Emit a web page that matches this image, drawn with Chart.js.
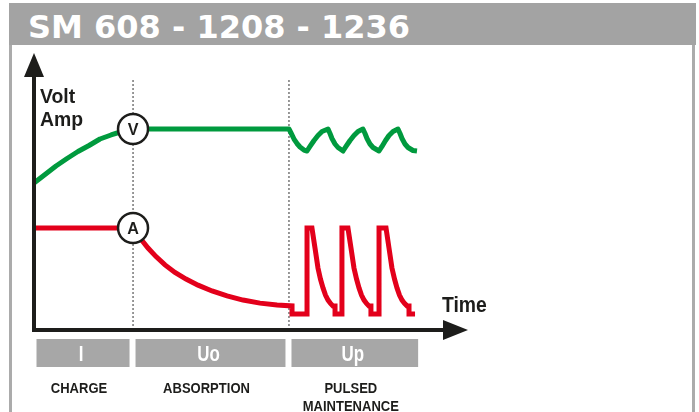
<!DOCTYPE html>
<html>
<head>
<meta charset="utf-8">
<script src="https://cdn.jsdelivr.net/npm/chart.js@4.4.1/dist/chart.umd.min.js"></script>
<style>
html,body{margin:0;padding:0;background:#fff;}
#wrap{position:relative;width:699px;height:412px;overflow:hidden;background:#fff;}
#title{position:absolute;left:9px;top:3px;width:687px;height:42px;background:#a3a3a3;color:#fff;
  font-family:"DejaVu Sans";font-weight:bold;font-size:32px;line-height:42px;padding:3px 0 0 19px;box-sizing:border-box;white-space:nowrap;}
#lline{position:absolute;left:9px;top:45px;width:3px;height:367px;background:#ababab;}
#rline{position:absolute;left:692px;top:45px;width:3px;height:367px;background:#ababab;}
#c{position:absolute;left:0;top:0;}
</style>
</head>
<body>
<div id="wrap">
  <div id="title">SM 608 - 1208 - 1236</div>
  <div id="lline"></div>
  <div id="rline"></div>
  <canvas id="c" width="699" height="412"></canvas>
</div>
<script>
// ---------- data (time units on x, relative level 0-100 on y) ----------
const voltX = [0, 1.12, 2.23, 3.35, 4.46, 5.58, 6.69, 7.81, 8.92, 10.04,
  25.85, 26.06, 26.36, 26.66, 26.97, 27.37, 27.68,
  27.98, 28.39, 28.79, 29.20, 29.81,
  30.01, 30.21, 30.52, 30.82, 31.33,
  31.63, 32.04, 32.44, 32.85, 33.35,
  33.56, 33.76, 34.06, 34.37, 34.98,
  35.28, 35.64, 35.99, 36.40, 36.90,
  37.11, 37.31, 37.61, 37.92, 38.42, 38.83];
const voltY = [53.07, 56.14, 59.21, 61.91, 64.44, 66.61, 68.95, 70.40, 71.66, 72.56,
  72.56, 71.12, 68.95, 67.33, 66.06, 64.98, 64.62,
  66.25, 68.41, 70.22, 71.66, 72.56,
  70.94, 69.13, 67.15, 65.88, 64.62,
  66.25, 68.41, 70.22, 71.66, 72.56,
  70.94, 69.13, 67.15, 65.88, 64.62,
  66.25, 68.41, 70.22, 71.66, 72.56,
  70.94, 69.13, 67.15, 65.88, 64.80, 64.62];

const ampX = [0, 10.0, 10.75, 11.56, 12.37, 13.28, 14.29, 15.41, 16.63, 18.05, 19.57, 21.19, 22.91, 24.64, 26.16,
  26.16, 27.68,
  27.68, 28.18, 28.49, 28.79, 29.04, 29.30, 29.55, 29.81, 30.06, 30.31, 30.52, 30.52, 31.22,
  31.22, 31.83, 32.14, 32.44, 32.70, 32.95, 33.20, 33.46, 33.71, 33.96, 34.16, 34.16, 34.98,
  34.98, 35.69, 35.99, 36.29, 36.55, 36.80, 37.05, 37.31, 37.56, 37.82, 38.02, 38.02, 38.63];
const ampY = [36.8, 36.8, 33.2, 29.6, 26.5, 23.5, 20.8, 18.4, 16.2, 14.1, 12.3, 10.8, 9.7, 9.0, 8.7,
  5.8, 5.8,
  36.8, 36.8, 29.6, 22.4, 18.4, 15.2, 12.6, 10.8, 9.6, 8.7, 8.7, 5.8, 5.8,
  36.8, 36.8, 29.6, 22.4, 18.4, 15.2, 12.6, 10.8, 9.6, 8.7, 8.7, 5.8, 5.8,
  36.8, 36.8, 29.6, 22.4, 18.4, 15.2, 12.6, 10.8, 9.6, 8.7, 8.7, 5.8, 5.8];

const markerX = [10.04, 10.04];
const markerY = [72.56, 36.8];
const markerLabels = ['V', 'A'];

const phaseBounds = [0, 10.04, 25.85, 39.3];
const phaseLabels = ['I', 'Uo', 'Up'];
const phaseCaptions = [['CHARGE'], ['ABSORPTION'], ['PULSED', 'MAINTENANCE']];
const dividerTop = 91;

const yAxisLabel = ['Volt', 'Amp'];
const xAxisLabel = 'Time';

const xMax = 44, yMax = 100;

// ---------- styles ----------
const GREEN = '#009a3e', RED = '#e3001b', INK = '#1d1d1b', BOXGREY = '#a7a7a7';
const FONT = '"Liberation Sans", Arial, sans-serif';

const pts = (xs, ys) => xs.map((v, i) => ({x: v, y: ys[i]}));

const dividerSets = [phaseBounds[1], phaseBounds[2]].map(b => ({
  data: [{x: b, y: 0}, {x: b, y: dividerTop}],
  borderColor: '#333', borderWidth: 1, borderDash: [2, 2], pointRadius: 0, order: 5, clip: false
}));

function drawText(ctx, txt, x, y, font, color, sx, align) {
  ctx.save();
  ctx.font = font; ctx.fillStyle = color; ctx.textBaseline = 'alphabetic';
  ctx.translate(x, y); ctx.scale(sx, 1);
  ctx.textAlign = align || 'left';
  ctx.fillText(txt, 0, 0);
  ctx.restore();
}

const deco = {
  id: 'deco',
  afterDatasetsDraw(chart) {
    const {ctx, scales: {x, y}} = chart;
    const x0 = x.getPixelForValue(0), y0 = y.getPixelForValue(0);
    const xEnd = x.getPixelForValue(xMax), yTop = y.getPixelForValue(yMax);
    ctx.save();
    ctx.strokeStyle = INK; ctx.fillStyle = INK; ctx.lineWidth = 4; ctx.lineCap = 'butt';
    ctx.beginPath(); ctx.moveTo(x0, y0 + 2); ctx.lineTo(x0, yTop + 22); ctx.stroke();
    ctx.beginPath(); ctx.moveTo(x0 - 2, y0); ctx.lineTo(xEnd - 23, y0); ctx.stroke();
    ctx.beginPath(); ctx.moveTo(x0, yTop); ctx.lineTo(x0 - 10, yTop + 24); ctx.lineTo(x0 + 10, yTop + 24); ctx.closePath(); ctx.fill();
    ctx.beginPath(); ctx.moveTo(xEnd, y0); ctx.lineTo(xEnd - 25, y0 - 10); ctx.lineTo(xEnd - 25, y0 + 10); ctx.closePath(); ctx.fill();
    ctx.restore();

    // marker letters
    const meta = chart.getDatasetMeta(0);
    meta.data.forEach((el, i) => {
      drawText(ctx, markerLabels[i], el.x, el.y + 6, 'bold 17px ' + FONT, INK, 0.95, 'center');
    });

    // axis labels
    drawText(ctx, yAxisLabel[0], x0 + 6, yTop + 50, 'bold 20px ' + FONT, INK, 0.97, 'left');
    drawText(ctx, yAxisLabel[1], x0 + 6, yTop + 73, 'bold 20px ' + FONT, INK, 0.97, 'left');
    drawText(ctx, xAxisLabel, xEnd - 26, y0 - 18, 'bold 22px ' + FONT, INK, 0.88, 'left');

    // phase boxes
    for (let i = 0; i < phaseLabels.length; i++) {
      const l = x.getPixelForValue(phaseBounds[i]) + 2.5;
      const r = x.getPixelForValue(phaseBounds[i + 1]) - 3.5;
      ctx.fillStyle = BOXGREY;
      ctx.fillRect(l, y0 + 9, r - l, 28);
      const cx = (l + r) / 2;
      drawText(ctx, phaseLabels[i], cx - 2, y0 + 31, 'bold 22px ' + FONT, '#fff', 0.77, 'center');
      phaseCaptions[i].forEach((c, k) => {
        drawText(ctx, c, cx - 4, y0 + 63 + k * 18, 'bold 14px ' + FONT, INK, 0.93, 'center');
      });
    }
  }
};

new Chart(document.getElementById('c'), {
  type: 'line',
  data: {
    datasets: [
      {data: pts(markerX, markerY), showLine: false, pointRadius: 15, pointBackgroundColor: '#fff',
       pointBorderColor: INK, pointBorderWidth: 2.5, order: 0, clip: false},
      {data: pts(voltX, voltY), borderColor: GREEN, borderWidth: 5, pointRadius: 0, tension: 0,
       borderJoinStyle: 'round', borderCapStyle: 'butt', order: 2, clip: false},
      {data: pts(ampX, ampY), borderColor: RED, borderWidth: 5, pointRadius: 0, tension: 0,
       borderJoinStyle: 'miter', borderCapStyle: 'butt', order: 1, clip: false},
      ...dividerSets
    ]
  },
  options: {
    responsive: false, animation: false, devicePixelRatio: 1,
    layout: {padding: {left: 34, right: 231, top: 53, bottom: 82}},
    plugins: {legend: {display: false}, tooltip: {enabled: false}, title: {display: false}},
    scales: {
      x: {type: 'linear', min: 0, max: xMax, display: false},
      y: {min: 0, max: yMax, display: false}
    },
    events: []
  },
  plugins: [deco]
});
</script>
</body>
</html>
